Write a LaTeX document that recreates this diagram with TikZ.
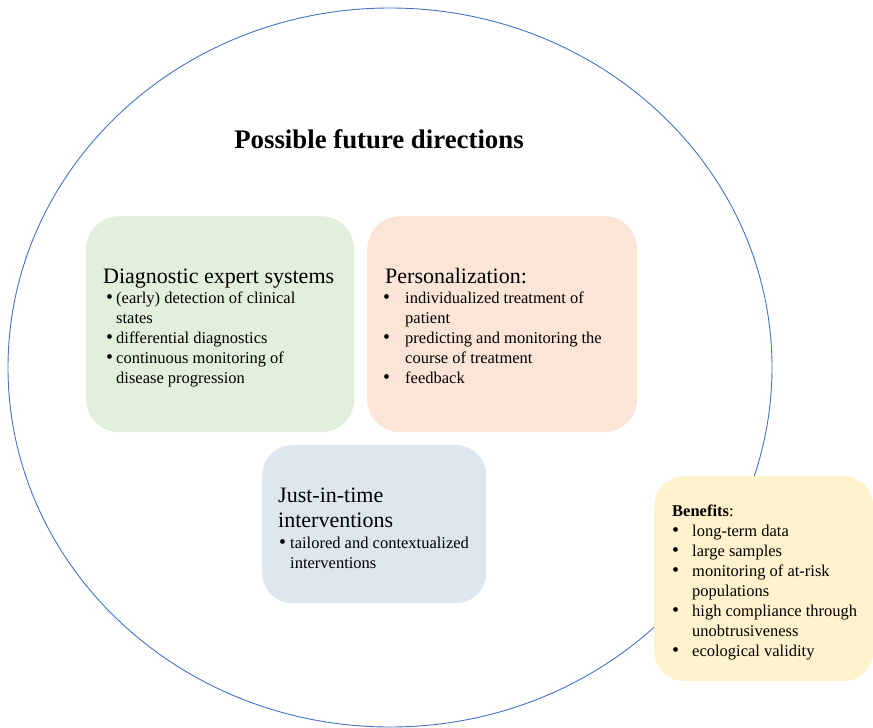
\documentclass[tikz,border=0pt]{standalone}
\usepackage{fontspec}
\setmainfont{Liberation Serif}
\usepackage{tikz}
\usepackage{xcolor}
\usetikzlibrary{positioning}

\definecolor{ringblue}{HTML}{4472C4}
\definecolor{diagfill}{HTML}{E2EFDA}
\definecolor{persfill}{HTML}{FBE5D6}
\definecolor{jitfill}{HTML}{DEE6EF}
\definecolor{benfill}{HTML}{FFF2CC}

% bullet line: #1 bullet offset, #2 text offset, #3 text
\newcommand{\bitem}[3]{\makebox[#2][l]{\hspace*{#1}\scalebox{1.2}{\textbullet}}#3}
% continuation line of a bullet
\newcommand{\bcont}[2]{\hspace*{#1}#2}
\newcommand{\headfont}{\fontsize{22}{20}\selectfont}
\newcommand{\bodyfont}{\fontsize{16.5}{20}\selectfont}

\tikzset{
    areabox/.style={rounded corners=33pt, draw=none, inner sep=0pt, anchor=north west},
    areatext/.style={anchor=base west, inner sep=0pt, align=left}
}

\begin{document}
\begin{tikzpicture}[x=1pt, y=-1pt]
                \useasboundingbox (0,0) rectangle (873,728);
                \draw[ringblue, line width=0.9pt] (390,367.5) ellipse [x radius=382, y radius=359.5];
                \node[anchor=base, inner sep=0pt] (title) at (379,148) {\fontsize{26.8}{30}\selectfont\bfseries Possible future directions};
                % the four areas
                \node[areabox, fill=diagfill, minimum width=268pt, minimum height=216pt] (diag) at (86,216) {};
                \node[areabox, fill=persfill, minimum width=270pt, minimum height=216pt] (pers) at (367,216) {};
                \node[areabox, fill=jitfill, minimum width=224pt, minimum height=158pt, rounded corners=30pt] (jit) at (262,445) {};
                \node[areabox, fill=benfill, minimum width=219pt, minimum height=205pt, rounded corners=30pt] (ben) at (654,476) {};
                \node[areatext] (diag-text) at (103,283) {\parbox[t]{250pt}{\bodyfont
                    {\headfont Diagnostic expert systems}\\
                    \bitem{3pt}{13pt}{(early) detection of clinical}\\
                    \bcont{13pt}{states}\\
                    \bitem{3pt}{13pt}{differential diagnostics}\\
                    \bitem{3pt}{13pt}{continuous monitoring of}\\
                    \bcont{13pt}{disease progression}}};
                \node[areatext] (pers-text) at (385,283) {\parbox[t]{250pt}{\bodyfont
                    {\headfont Personalization:}\\
                    \bitem{-2pt}{20pt}{individualized treatment of}\\
                    \bcont{20pt}{patient}\\
                    \bitem{-2pt}{20pt}{predicting and monitoring the}\\
                    \bcont{20pt}{course of treatment}\\
                    \bitem{-2pt}{20pt}{feedback}}};
                \node[areatext] (jit-text) at (278,502) {\parbox[t]{210pt}{\bodyfont
                    {\headfont Just-in-time}\\[5pt]
                    {\headfont interventions}\\[1pt]
                    \bitem{1pt}{12pt}{tailored and contextualized}\\
                    \bcont{12pt}{interventions}}};
                \node[areatext] (ben-text) at (672,516) {\parbox[t]{200pt}{\bodyfont
                    \textbf{Benefits}:\\
                    \bitem{0pt}{20pt}{long-term data}\\
                    \bitem{0pt}{20pt}{large samples}\\
                    \bitem{0pt}{20pt}{monitoring of at-risk}\\
                    \bcont{20pt}{populations}\\
                    \bitem{0pt}{20pt}{high compliance through}\\
                    \bcont{20pt}{unobtrusiveness}\\
                    \bitem{0pt}{20pt}{ecological validity}}};
\end{tikzpicture}
\end{document}
